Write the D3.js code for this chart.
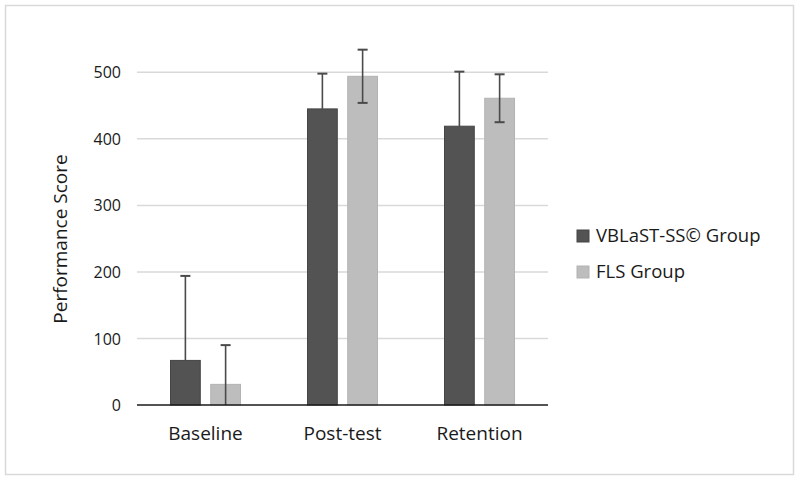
<!DOCTYPE html>
<html><head><meta charset="utf-8">
<script src="https://cdn.jsdelivr.net/npm/d3@7"></script>
<style>body{margin:0;background:#fff}svg{display:block}text{font-family:"Open Sans","Noto Sans",sans-serif;fill:#1a1a1a}</style>
</head><body><svg id="c" width="800" height="480"></svg>
<script>
const categories = ["Baseline", "Post-test", "Retention"];
const seriesNames = ["VBLaST-SS\u00A9 Group", "FLS Group"];
const vblastMean = [67, 445, 419];
const vblastSD = [127, 53, 82];
const flsMean = [31, 494, 461];
const flsSD = [59, 40, 36];
const yTicks = [0, 100, 200, 300, 400, 500];
const colors = ["#535353", "#bdbdbd"];

const FONT = '"Open Sans","Noto Sans",sans-serif';
const svg = d3.select("#c");
svg.append("rect").attr("x",5.5).attr("y",5.5).attr("width",788).attr("height",469)
  .attr("fill","#fff").attr("stroke","#d9d9d9").attr("stroke-width",1.5);

const m = {l:137, r:548, t:72.3, b:405};
const y = d3.scaleLinear().domain([0,500]).range([m.b, m.t]);
const x0 = d3.scaleBand().domain(categories).range([m.l, m.r]).paddingInner(0).paddingOuter(0);
const x1 = d3.scaleBand().domain(seriesNames).range([x0.bandwidth()/2-35, x0.bandwidth()/2+35]).paddingInner(0.26);

// gridlines
svg.append("g").selectAll("line").data(yTicks.filter(d=>d>0)).join("line")
  .attr("x1",m.l).attr("x2",m.r).attr("y1",d=>y(d)).attr("y2",d=>y(d))
  .attr("stroke","#d9d9d9").attr("stroke-width",1.5);

// y axis labels
const yAxis = d3.axisLeft(y).tickValues(yTicks).tickSize(0).tickPadding(0);
const ya = svg.append("g").attr("transform",`translate(121,0)`).call(yAxis);
ya.select(".domain").remove();
ya.selectAll("text").attr("font-size",16).attr("fill","#1a1a1a").attr("dy","0.35em")
  .style("font-family",FONT);

const data = [];
categories.forEach((c,i)=>{
  data.push({c, s:seriesNames[0], v:vblastMean[i], sd:vblastSD[i], k:0});
  data.push({c, s:seriesNames[1], v:flsMean[i], sd:flsSD[i], k:1});
});

const bars = svg.append("g");
bars.selectAll("rect").data(data).join("rect")
  .attr("x",d=>x0(d.c)+x1(d.s)).attr("width",x1.bandwidth())
  .attr("y",d=>y(d.v)).attr("height",d=>y(0)-y(d.v))
  .attr("fill",d=>colors[d.k])
  .attr("stroke",d=>d.k===0?"#454545":"#b3b3b3").attr("stroke-width",1);

// error bars
const eb = svg.append("g").attr("stroke","#4a4a4a").attr("stroke-width",1.6);
data.forEach(d=>{
  const cx = x0(d.c)+x1(d.s)+x1.bandwidth()/2;
  const hi = d.v+d.sd, lo = Math.max(0, d.v-d.sd);
  const loDraw = d.k===0 ? d.v : lo;
  eb.append("line").attr("x1",cx).attr("x2",cx).attr("y1",y(hi)).attr("y2",y(loDraw));
  eb.append("line").attr("x1",cx-5).attr("x2",cx+5).attr("y1",y(hi)).attr("y2",y(hi)).attr("stroke-width",2);
  if (d.k===1 && d.v-d.sd>0) eb.append("line").attr("x1",cx-5).attr("x2",cx+5).attr("y1",y(lo)).attr("y2",y(lo)).attr("stroke-width",2);
});

// x axis
svg.append("line").attr("x1",m.l).attr("x2",m.r).attr("y1",y(0)).attr("y2",y(0))
  .attr("stroke","#1a1a1a").attr("stroke-width",1.5);
const xAxis = d3.axisBottom(x0).tickSize(0).tickPadding(0);
const xa = svg.append("g").attr("transform",`translate(0,${y(0)})`).call(xAxis);
xa.select(".domain").remove();
xa.selectAll("text").attr("font-size",19).attr("fill","#1a1a1a").attr("dy",0).attr("y",35)
  .style("font-family",FONT);

// y title
svg.append("text").attr("transform","translate(67,239) rotate(-90)").attr("text-anchor","middle")
  .attr("font-size",19).text("Performance Score");

// legend
const lg = svg.append("g");
seriesNames.forEach((s,i)=>{
  const yy = 230 + i*36;
  lg.append("rect").attr("x",577).attr("y",yy).attr("width",12).attr("height",12)
    .attr("fill",colors[i]).attr("stroke",i===0?"#454545":"#b3b3b3");
  lg.append("text").attr("x",596).attr("y",yy+12).attr("font-size",18.5).text(s);
});
</script></body></html>
